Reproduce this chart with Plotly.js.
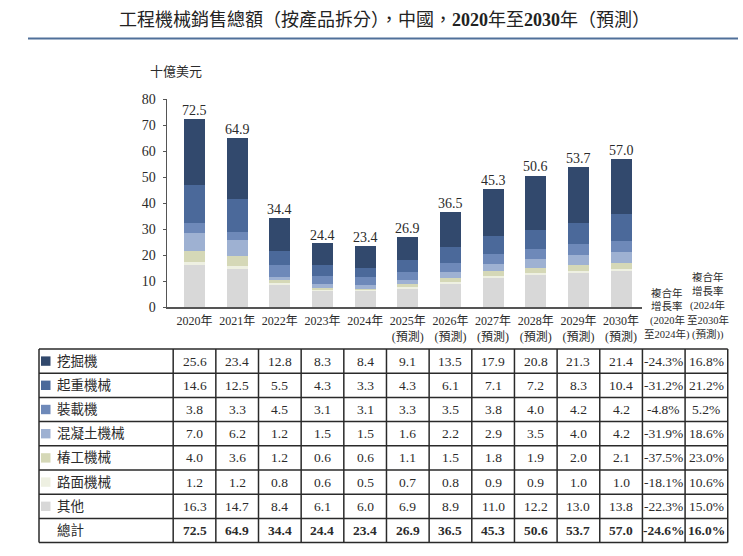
<!DOCTYPE html>
<html><head><meta charset="utf-8">
<script src="https://cdn.plot.ly/plotly-3.0.1.min.js"></script>
<style>html,body{margin:0;padding:0;background:#fff}</style>
</head><body><div id="chart" style="width:743px;height:556px"></div>
<script>
// ---------- data ----------
const years = ['2020年','2021年','2022年','2023年','2024年','2025年<br>(預測)','2026年<br>(預測)','2027年<br>(預測)','2028年<br>(預測)','2029年<br>(預測)','2030年<br>(預測)'];
const seriesNames = ['挖掘機','起重機械','裝載機','混凝土機械','椿工機械','路面機械','其他'];
const excavator = [25.6,23.4,12.8,8.3,8.4,9.1,13.5,17.9,20.8,21.3,21.4];
const crane     = [14.6,12.5,5.5,4.3,3.3,4.3,6.1,7.1,7.2,8.3,10.4];
const loader    = [3.8,3.3,4.5,3.1,3.1,3.3,3.5,3.8,4.0,4.2,4.2];
const concrete  = [7.0,6.2,1.2,1.5,1.5,1.6,2.2,2.9,3.5,4.0,4.2];
const piling    = [4.0,3.6,1.2,0.6,0.6,1.1,1.5,1.8,1.9,2.0,2.1];
const road      = [1.2,1.2,0.8,0.6,0.5,0.7,0.8,0.9,0.9,1.0,1.0];
const others    = [16.3,14.7,8.4,6.1,6.0,6.9,8.9,11.0,12.2,13.0,13.8];
const totals    = [72.5,64.9,34.4,24.4,23.4,26.9,36.5,45.3,50.6,53.7,57.0];
const cagr2020to2024 = ['-24.3%','-31.2%','-4.8%','-31.9%','-37.5%','-18.1%','-22.3%','-24.6%'];
const cagr2024to2030 = ['16.8%','21.2%','5.2%','18.6%','23.0%','10.6%','15.0%','16.0%'];
const totalLabel = '總計';
const cagrHead1 = ['複合年','增長率','(2020年','至2024年)'];
const cagrHead2 = ['複合年','增長率','(2024年','至2030年','(預測))'];
const titleText = '工程機械銷售總額（按產品拆分），中國，<b>2020</b>年至<b>2030</b>年（預測）';
const unitText = '十億美元';

// ---------- styles ----------
const W = 743, H = 556;
const serif = 'Liberation Serif, "Noto Sans CJK TC", serif';
const txt = '#2b2b2b';
const colors = ['#32496d','#4b699a','#6e89b9','#9eb1d2','#d5d8b7','#eef0e2','#d8d8d8'];
const tableSeries = [excavator, crane, loader, concrete, piling, road, others];
const axL = 167, axR = 642, xr = [-0.645, 10.49];
const step = (axR - axL) / (xr[1] - xr[0]);
const colX = i => axL + (i - xr[0]) * step;
const PX = p => p / W, PY = p => 1 - p / H;
const tblL = 39, tblR = colX(12.5), rowTop = 349, rowH = 24.2, nRows = 8;

// ---------- bars (stacked bottom to top) ----------
const stackOrder = [6,5,4,3,2,1,0];
const traces = stackOrder.map(k => ({
  type: 'bar', x: years, y: tableSeries[k], name: seriesNames[k],
  marker: {color: colors[k], line: {width: 0}}, hoverinfo: 'skip'
}));

const annotations = [];
const shapes = [];
const ann = o => annotations.push(Object.assign({xref: 'paper', yref: 'paper', showarrow: false,
  xanchor: 'center', yanchor: 'middle'}, o));

// total labels above bars
totals.forEach((t, i) => ann({
  xref: 'x', yref: 'y', x: i, y: t, text: t.toFixed(1),
  yanchor: 'bottom', yshift: -1, font: {family: serif, size: 14, color: txt}
}));

// title and unit
ann({x: PX(384), y: PY(20), text: titleText, font: {family: serif, size: 18, color: '#222'}});
ann({x: PX(176), y: PY(72), text: unitText, font: {family: serif, size: 13, color: txt}});
shapes.push({type: 'line', xref: 'paper', yref: 'paper', x0: PX(28), x1: PX(738), y0: PY(38.5), y1: PY(38.5),
  line: {color: '#50709a', width: 2}});

// CAGR headers, one line per annotation, bottom line aligned
[[cagrHead1, 11, 3.5, 13.8], [cagrHead2, 12, 1.5, 14.2]].forEach(([lines, c, dx, lh]) => {
  const n = lines.length;
  lines.forEach((t, j) => ann({
    x: PX(colX(c) + dx), y: PY(334 - (n - 1 - j) * lh), text: t,
    font: {family: serif, size: 10.5, color: txt}
  }));
});

// table rows
const rowLabels = seriesNames.concat([totalLabel]);
const rowValues = tableSeries.concat([totals]);
for (let r = 0; r < nRows; r++) {
  const cy = rowTop + rowH * (r + 0.5);
  const bold = r === nRows - 1;
  ann({x: PX(55), y: PY(cy), xanchor: 'left', text: rowLabels[r], font: {family: serif, size: 13.5, color: txt}});
  if (r < 7) {
    shapes.push({type: 'rect', xref: 'paper', yref: 'paper', x0: PX(41), x1: PX(50.5), y0: PY(cy - 4.7), y1: PY(cy + 4.7),
      fillcolor: colors[r], line: {width: 0}});
  }
  rowValues[r].forEach((v, i) => ann({
    x: PX(colX(i)), y: PY(cy), text: bold ? '<b>' + v.toFixed(1) + '</b>' : v.toFixed(1),
    font: {family: serif, size: 13.5, color: txt}
  }));
  [[cagr2020to2024, 11], [cagr2024to2030, 12]].forEach(([arr, c]) => ann({
    x: PX(colX(c)), y: PY(cy), text: bold ? '<b>' + arr[r] + '</b>' : arr[r],
    font: {family: serif, size: 13.5, color: txt}
  }));
}
// table grid
for (let r = 0; r <= nRows; r++) {
  const y = PY(rowTop + rowH * r);
  shapes.push({type: 'line', xref: 'paper', yref: 'paper', x0: PX(tblL), x1: PX(tblR), y0: y, y1: y,
    line: {color: '#2a2a2a', width: 1.5}});
}
const vx = [tblL];
for (let i = -0.5; i <= 12.5; i += 1) vx.push(colX(i));
vx.forEach(x => shapes.push({type: 'line', xref: 'paper', yref: 'paper', x0: PX(x), x1: PX(x),
  y0: PY(rowTop), y1: PY(rowTop + rowH * nRows), line: {color: '#2a2a2a', width: 1.5}}));

const layout = {
  width: W, height: H, margin: {l: 0, r: 0, t: 0, b: 0},
  paper_bgcolor: '#fff', plot_bgcolor: '#fff', showlegend: false,
  barmode: 'stack', bargap: 0.51,
  xaxis: {domain: [PX(axL), PX(axR)], range: xr, type: 'category', showline: true, linecolor: '#555', linewidth: 1.5,
    ticks: '', showgrid: false, zeroline: false, fixedrange: true, ticklabelstandoff: 2,
    tickfont: {family: serif, size: 12, color: txt}},
  yaxis: {domain: [PY(307), PY(99)], range: [0, 80], dtick: 10, showline: true, linecolor: '#555', linewidth: 1.5,
    ticks: 'outside', ticklen: 3, tickcolor: '#555', showgrid: false, zeroline: false, fixedrange: true,
    ticklabelstandoff: 4, tickfont: {family: serif, size: 14, color: txt}},
  annotations, shapes
};
Plotly.newPlot('chart', traces, layout, {displayModeBar: false, staticPlot: true});
</script></body></html>
